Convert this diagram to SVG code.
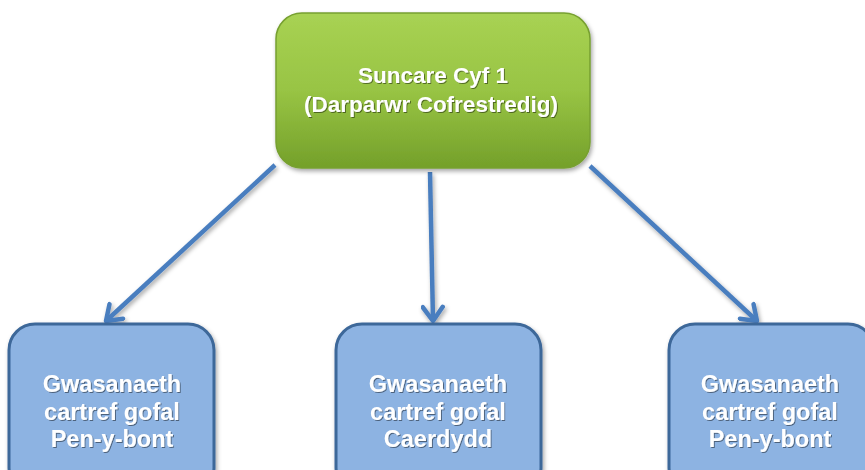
<svg xmlns="http://www.w3.org/2000/svg" width="865" height="470" viewBox="0 0 865 470">
  <defs>
    <linearGradient id="gGreen" x1="0" y1="0" x2="0" y2="1">
      <stop offset="0" stop-color="#a8d253"/>
      <stop offset="0.5" stop-color="#98c444"/>
      <stop offset="1" stop-color="#74a02a"/>
    </linearGradient>
    <filter id="shadow" x="-10%" y="-10%" width="130%" height="130%">
      <feDropShadow dx="1.5" dy="2.5" stdDeviation="2" flood-color="#000" flood-opacity="0.35"/>
    </filter>
    <filter id="tshadow" x="-5%" y="-20%" width="110%" height="150%">
      <feDropShadow dx="1" dy="1" stdDeviation="0.6" flood-color="#000" flood-opacity="0.45"/>
    </filter>
    <marker id="arrow" viewBox="0 0 24 24" refX="20" refY="12" markerWidth="24" markerHeight="24" markerUnits="userSpaceOnUse" orient="auto">
      <path d="M6,2 L20,12 L6,22" fill="none" stroke="#4a7ebf" stroke-width="4.5" stroke-linecap="round" stroke-linejoin="round"/>
    </marker>
  </defs>
  <style>
    .label { font-family: "Liberation Sans", Arial, sans-serif; font-weight: bold; fill: #ffffff; text-anchor: middle; }
    .top { font-size: 22.5px; }
    .bot { font-size: 23.5px; }
    .child { fill: #8db3e2; stroke: #3d6799; stroke-width: 3; }
    .conn { stroke: #4a7ebf; stroke-width: 4.5; fill: none; marker-end: url(#arrow); }
  </style>
  <rect width="865" height="470" fill="#ffffff"/>

  <g id="connectors" filter="url(#shadow)">
    <line class="conn" x1="275" y1="165" x2="106" y2="321"/>
    <line class="conn" x1="430" y1="172" x2="433" y2="321"/>
    <line class="conn" x1="590" y1="166" x2="757" y2="321"/>
  </g>

  <g id="root">
    <rect x="276" y="13" width="314" height="155" rx="26" ry="26" fill="url(#gGreen)" stroke="#77a030" stroke-width="1.5" filter="url(#shadow)"/>
    <g filter="url(#tshadow)">
      <text class="label top" x="433" y="83">Suncare Cyf 1</text>
      <text class="label top" x="431" y="112">(Darparwr Cofrestredig)</text>
    </g>
  </g>

  <g id="child-left">
    <rect class="child" x="9" y="324" width="205" height="170" rx="26" ry="26" filter="url(#shadow)"/>
    <g filter="url(#tshadow)">
      <text class="label bot" x="112" y="392">Gwasanaeth</text>
      <text class="label bot" x="112" y="420">cartref gofal</text>
      <text class="label bot" x="112" y="447">Pen-y-bont</text>
    </g>
  </g>

  <g id="child-middle">
    <rect class="child" x="336" y="324" width="205" height="170" rx="26" ry="26" filter="url(#shadow)"/>
    <g filter="url(#tshadow)">
      <text class="label bot" x="438" y="392">Gwasanaeth</text>
      <text class="label bot" x="438" y="420">cartref gofal</text>
      <text class="label bot" x="438" y="447">Caerdydd</text>
    </g>
  </g>

  <g id="child-right">
    <rect class="child" x="669" y="324" width="205" height="170" rx="26" ry="26" filter="url(#shadow)"/>
    <g filter="url(#tshadow)">
      <text class="label bot" x="770" y="392">Gwasanaeth</text>
      <text class="label bot" x="770" y="420">cartref gofal</text>
      <text class="label bot" x="770" y="447">Pen-y-bont</text>
    </g>
  </g>
</svg>
